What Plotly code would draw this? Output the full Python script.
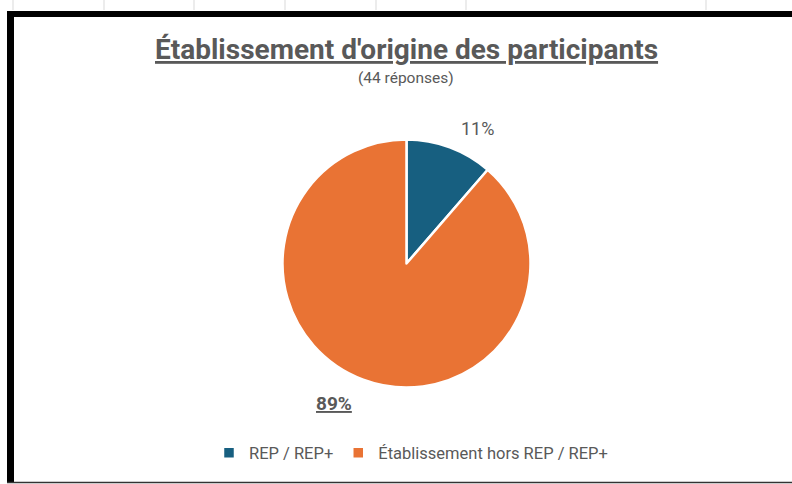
import plotly.graph_objects as go

categories = ["REP / REP+", "Établissement hors REP / REP+"]
counts = [5, 39]
colors = ["#175F80", "#E97334"]
title_text = "Établissement d'origine des participants"
subtitle_text = "(44 réponses)"

total = sum(counts)
pcts = [round(100 * c / total) for c in counts]

W, H = 792, 484
cx, cy, r = 406.5, 263.5, 124

fig = go.Figure()
fig.add_trace(go.Pie(
    labels=categories,
    values=counts,
    sort=False,
    direction="clockwise",
    rotation=0,
    marker=dict(colors=colors, line=dict(color="white", width=2.5)),
    textinfo="none",
    hoverinfo="label+percent",
    domain=dict(x=[(cx - r) / W, (cx + r) / W], y=[1 - (cy + r) / H, 1 - (cy - r) / H]),
))

font_fam = "Roboto, 'Noto Sans', sans-serif"
grey = "#595959"

annotations = [
    dict(text="<b><u>" + title_text + "</u></b>", x=406 / W, y=1 - 50 / H, xref="paper", yref="paper",
         showarrow=False, font=dict(size=28, color=grey, family=font_fam), xanchor="center", yanchor="middle"),
    dict(text=subtitle_text, x=406 / W, y=1 - 78 / H, xref="paper", yref="paper",
         showarrow=False, font=dict(size=15.5, color=grey, family=font_fam), xanchor="center", yanchor="middle"),
    dict(text=f"{pcts[0]}%", x=477 / W, y=1 - 128 / H, xref="paper", yref="paper",
         showarrow=False, font=dict(size=18, color=grey, family=font_fam), xanchor="center", yanchor="middle"),
    dict(text=f"<b><u>{pcts[1]}%</u></b>", x=334 / W, y=1 - 403 / H, xref="paper", yref="paper",
         showarrow=False, font=dict(size=19, color=grey, family=font_fam), xanchor="center", yanchor="middle"),
]

shapes = [
    # spreadsheet grid ticks above the chart
    *[dict(type="line", xref="paper", yref="paper", x0=gx / W, x1=gx / W, y0=1 - 0 / H, y1=1 - 10 / H,
           line=dict(color="#d9d9d9", width=1)) for gx in [13, 104, 194, 285, 376, 466, 706]],
    # chart border
    dict(type="line", xref="paper", yref="paper", x0=7 / W, x1=1.0, y0=1 - 14 / H, y1=1 - 14 / H,
         line=dict(color="black", width=6)),
    dict(type="line", xref="paper", yref="paper", x0=10.5 / W, x1=10.5 / W, y0=1 - 11 / H, y1=1 - 483 / H,
         line=dict(color="black", width=7)),
    dict(type="line", xref="paper", yref="paper", x0=7 / W, x1=1.0, y0=1 - 482.5 / H, y1=1 - 482.5 / H,
         line=dict(color="#333333", width=1.5)),
]

fig.update_layout(
    width=W, height=H,
    margin=dict(l=0, r=0, t=0, b=0),
    paper_bgcolor="white",
    plot_bgcolor="white",
    annotations=annotations,
    shapes=shapes,
    showlegend=True,
    legend=dict(orientation="h", x=411 / W, y=1 - 453 / H, xanchor="center", yanchor="middle",
                font=dict(size=16.5, color=grey, family=font_fam), itemwidth=30,
                traceorder="normal"),
)

fig.write_html("out.html", config={"displayModeBar": False},
               post_script="document.body.style.margin='0';document.body.style.overflow='hidden';")
